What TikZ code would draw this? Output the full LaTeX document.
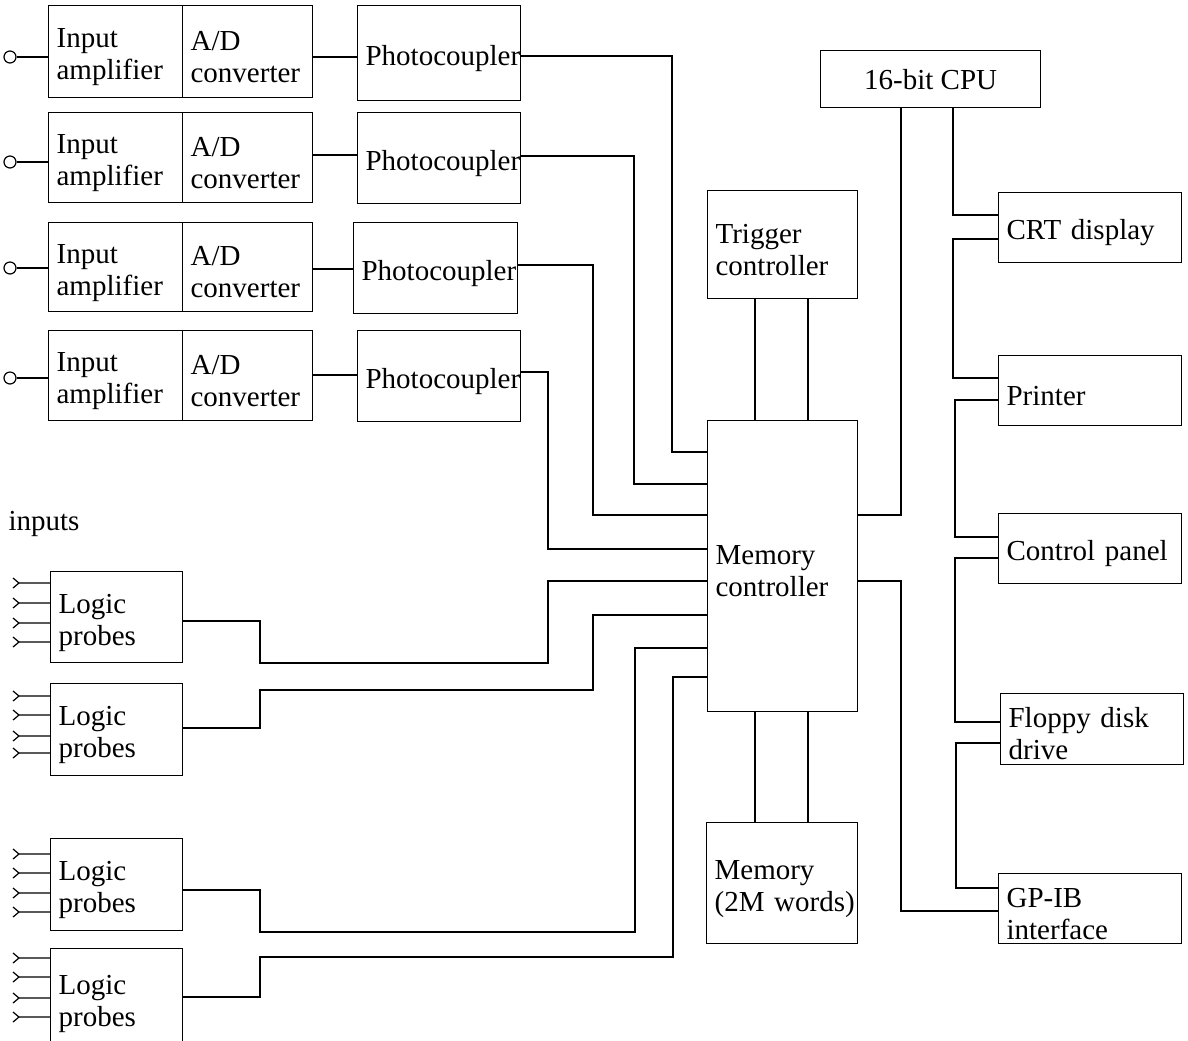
\documentclass[tikz,border=0pt]{standalone}
\usepackage{fontspec}
\setmainfont{Liberation Serif}
\usetikzlibrary{positioning}

\begin{document}
\begin{tikzpicture}[x=0.5pt,y=-0.5pt,line width=0.6pt,
		blk/.style={draw,anchor=north west,inner xsep=4pt,inner ysep=0pt,align=left,font=\fontsize{14.5}{16}\selectfont,
			execute at begin node={\rule{0pt}{15pt}}},
		term/.style={draw,circle,inner sep=0pt,minimum size=6pt}]
		\useasboundingbox (0,0) rectangle (1188,1040);
		\clip (0,0) rectangle (1188,1040);
		
		% analog channels
		\node[blk,text width=59pt,minimum height=46pt] (amp1) at (48,5) {Input\\amplifier};
		\node[blk,text width=57pt,minimum height=46pt] (adc1) at (182,5) {A/D\\converter};
		\node[blk,text width=73.5pt,minimum height=47.5pt] (pc1) at (357,5) {Photocoupler};
		\node[blk,text width=59pt,minimum height=45pt] (amp2) at (48,112) {Input\\amplifier};
		\node[blk,text width=57pt,minimum height=45pt] (adc2) at (182,112) {A/D\\converter};
		\node[blk,text width=73.5pt,minimum height=45.5pt] (pc2) at (357,112) {Photocoupler};
		\node[blk,text width=59pt,minimum height=44.5pt] (amp3) at (48,222) {Input\\amplifier};
		\node[blk,text width=57pt,minimum height=44.5pt] (adc3) at (182,222) {A/D\\converter};
		\node[blk,text width=74pt,minimum height=45.5pt] (pc3) at (353,222) {Photocoupler};
		\node[blk,text width=59pt,minimum height=45pt] (amp4) at (48,330) {Input\\amplifier};
		\node[blk,text width=57pt,minimum height=45pt] (adc4) at (182,330) {A/D\\converter};
		\node[blk,text width=73.5pt,minimum height=45.5pt] (pc4) at (357,330) {Photocoupler};
		
		\node[term] (t1) at (10,57) {};
		\node[term] (t2) at (10,162) {};
		\node[term] (t3) at (10,268) {};
		\node[term] (t4) at (10,378) {};
		
		% logic probes
		\node[draw=none,anchor=base west,inner sep=0pt,font=\fontsize{14.5}{16}\selectfont] (lbl) at (8,530) {inputs};
		\node[blk,text width=58pt,minimum height=45.5pt] (lp1) at (50,571) {Logic\\probes};
		\node[blk,text width=58pt,minimum height=46pt] (lp2) at (50,683) {Logic\\probes};
		\node[blk,text width=58pt,minimum height=46pt] (lp3) at (50,838) {Logic\\probes};
		\node[blk,text width=58pt,minimum height=50pt] (lp4) at (50,948) {Logic\\probes};
		
		% controllers
		\node[blk,text width=67pt,minimum height=54pt] (trig) at (707,190) {Trigger\\controller};
		\node[blk,text width=67pt,minimum height=145.5pt] (mc) at (707,420) {Memory\\controller};
		\node[blk,text width=67.5pt,minimum height=60.5pt] (mem) at (706,822) {Memory\\\mbox{(2M words)}};
		\node[draw,anchor=north west,minimum width=110pt,minimum height=28.5pt,inner sep=0pt,font=\fontsize{14.5}{16}\selectfont] (cpu) at (820,50) {16-bit CPU};
		
		% peripherals
		\node[blk,text width=83.5pt,minimum height=35pt] (crt) at (998,192) {CRT display};
		\node[blk,text width=83.5pt,minimum height=35pt] (prn) at (998,355) {Printer};
		\node[blk,text width=83.5pt,minimum height=35pt] (cp) at (998,513) {Control panel};
		\node[blk,text width=83.5pt,minimum height=35.5pt] (fdd) at (1000,693) {Floppy disk\\drive};
		\node[blk,text width=83.5pt,minimum height=35pt] (gpib) at (998,873) {GP-IB\\interface};
		
		\draw[] (t1) to (amp1.west |- t1);
		\draw[] (t2) to (amp2.west |- t2);
		\draw[] (t3) to (amp3.west |- t3);
		\draw[] (t4) to (amp4.west |- t4);
		
		\draw[] (adc1.east |- 0,57) to (pc1.west |- 0,57);
		\draw[] (adc2.east |- 0,155) to (pc2.west |- 0,155);
		\draw[] (adc3.east |- 0,269) to (pc3.west |- 0,269);
		\draw[] (adc4.east |- 0,375) to (pc4.west |- 0,375);
		
		\draw[] (pc1.east |- 0,56) -| (672,452) -- (mc.west |- 0,452);
		\draw[] (pc2.east |- 0,156) -| (634,484) -- (mc.west |- 0,484);
		\draw[] (pc3.east |- 0,265) -| (593,515) -- (mc.west |- 0,515);
		\draw[] (pc4.east |- 0,372) -| (548,549) -- (mc.west |- 0,549);
		
		\draw[] (lp1.east |- 0,621) -| (260,663) -| (548,581) -- (mc.west |- 0,581);
		\draw[] (lp2.east |- 0,728) -| (260,690) -| (593,615) -- (mc.west |- 0,615);
		\draw[] (lp3.east |- 0,890) -| (260,932) -| (635,648) -- (mc.west |- 0,648);
		\draw[] (lp4.east |- 0,997) -| (260,957) -| (673,677) -- (mc.west |- 0,677);
		
		% probe tips
		\draw[] (lp1.west |- 0,583) -- ++(-31,0) -- ++(-6,-5) ++(6,5) -- ++(-6,5);
		\draw[] (lp1.west |- 0,603) -- ++(-31,0) -- ++(-6,-5) ++(6,5) -- ++(-6,5);
		\draw[] (lp1.west |- 0,623) -- ++(-31,0) -- ++(-6,-5) ++(6,5) -- ++(-6,5);
		\draw[] (lp1.west |- 0,642) -- ++(-31,0) -- ++(-6,-5) ++(6,5) -- ++(-6,5);
		\draw[] (lp2.west |- 0,696) -- ++(-31,0) -- ++(-6,-5) ++(6,5) -- ++(-6,5);
		\draw[] (lp2.west |- 0,715) -- ++(-31,0) -- ++(-6,-5) ++(6,5) -- ++(-6,5);
		\draw[] (lp2.west |- 0,736) -- ++(-31,0) -- ++(-6,-5) ++(6,5) -- ++(-6,5);
		\draw[] (lp2.west |- 0,753) -- ++(-31,0) -- ++(-6,-5) ++(6,5) -- ++(-6,5);
		\draw[] (lp3.west |- 0,854) -- ++(-31,0) -- ++(-6,-5) ++(6,5) -- ++(-6,5);
		\draw[] (lp3.west |- 0,873) -- ++(-31,0) -- ++(-6,-5) ++(6,5) -- ++(-6,5);
		\draw[] (lp3.west |- 0,893) -- ++(-31,0) -- ++(-6,-5) ++(6,5) -- ++(-6,5);
		\draw[] (lp3.west |- 0,912) -- ++(-31,0) -- ++(-6,-5) ++(6,5) -- ++(-6,5);
		\draw[] (lp4.west |- 0,958) -- ++(-31,0) -- ++(-6,-5) ++(6,5) -- ++(-6,5);
		\draw[] (lp4.west |- 0,977) -- ++(-31,0) -- ++(-6,-5) ++(6,5) -- ++(-6,5);
		\draw[] (lp4.west |- 0,998) -- ++(-31,0) -- ++(-6,-5) ++(6,5) -- ++(-6,5);
		\draw[] (lp4.west |- 0,1017) -- ++(-31,0) -- ++(-6,-5) ++(6,5) -- ++(-6,5);
		
		\draw[] (trig.south -| 755,0) to (mc.north -| 755,0);
		\draw[] (trig.south -| 808,0) to (mc.north -| 808,0);
		\draw[] (mc.south -| 755,0) to (mem.north -| 755,0);
		\draw[] (mc.south -| 808,0) to (mem.north -| 808,0);
		
		\draw[] (cpu.south -| 901,0) |- (mc.east |- 0,515);
		\draw[] (cpu.south -| 953,0) |- (crt.west |- 0,215);
		\draw[] (crt.west |- 0,239) -| (953,378) -- (prn.west |- 0,378);
		\draw[] (prn.west |- 0,400) -| (955,537) -- (cp.west |- 0,537);
		\draw[] (cp.west |- 0,558) -| (955,722) -- (fdd.west |- 0,722);
		\draw[] (fdd.west |- 0,743) -| (956,888) -- (gpib.west |- 0,888);
		\draw[] (mc.east |- 0,581) -| (901,911) -- (gpib.west |- 0,911);
		\end{tikzpicture}
\end{document}
